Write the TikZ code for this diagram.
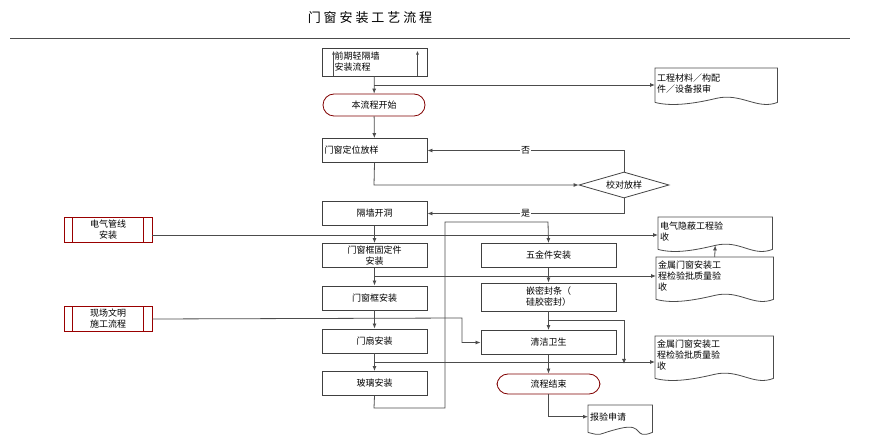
\documentclass[tikz,border=0pt]{standalone}
\usepackage{fontspec}
\setmainfont{Noto Sans CJK SC}
\usetikzlibrary{shapes.geometric,arrows.meta}
\begin{document}
\begin{tikzpicture}[x=1pt,y=-1pt,
  every node/.style={font=\fontsize{9}{11}\selectfont, align=center, inner sep=1pt},
  box/.style={draw=black!75, line width=0.9pt, minimum width=105pt, minimum height=24pt, text width=100pt},
  rbox/.style={draw=black!75, line width=0.9pt, minimum width=135pt, minimum height=24pt},
  term/.style={draw=red!50!black, line width=0.8pt, rounded corners=11pt, minimum width=102pt, minimum height=22pt},
  sub/.style={draw=black!75, line width=0.9pt, minimum width=105pt, minimum height=28pt},
  lsub/.style={draw=red!60!black, line width=0.8pt, minimum width=88pt, minimum height=25pt},
  doc/.style={minimum height=#1, align=left, anchor=north west, inner sep=2pt},
  ln/.style={draw=black!70, line width=0.8pt},
  ar/.style={ln, -{Latex[length=5pt,width=4pt]}}]
\useasboundingbox (0,0) rectangle (886,443);
\node[font=\fontsize{13}{15}\selectfont] (title) at (370,18) {门 窗 安 装 工 艺 流 程};
\coordinate (tl) at (10,38); \coordinate (tr) at (850,38);
\draw[ln] (tl) -- (tr);
% main column
\node[sub, text width=80pt, align=left] (pre) at (374.5,62) {前期轻隔墙\\安装流程};
\draw[ln,-{Latex[length=4pt,width=3pt]}] ([xshift=12pt]pre.south west) -- ([xshift=12pt,yshift=-3pt]pre.north west);
\draw[ln,-{Latex[length=4pt,width=3pt]}] ([xshift=-10pt]pre.south east) -- ([xshift=-10pt,yshift=-3pt]pre.north east);
\node[term] (start) at (374,105) {本流程开始};
\node[box, align=left] (dw) at (374.5,150.5) {门窗定位放样};
\node[draw=black!75, line width=0.8pt, diamond, aspect=3.5, minimum width=90pt, minimum height=26pt, inner sep=0pt] (chk) at (624,185) {校对放样};
\node[box] (kd) at (374.5,213.5) {隔墙开洞};
\node[box] (gd) at (374.5,255.5) {门窗框固定件\\安装};
\node[box] (kz) at (374.5,298) {门窗框安装};
\node[box] (ms) at (374.5,341) {门扇安装};
\node[box] (bl) at (374.5,383.5) {玻璃安装};
% right column
\node[rbox] (wj) at (548.5,255.5) {五金件安装};
\node[rbox, minimum height=28pt] (mf) at (548.5,297) {嵌密封条（\\硅胶密封）};
\node[rbox] (qj) at (548.5,342.5) {清洁卫生};
\node[term, minimum width=103pt, minimum height=20pt] (end) at (548.5,384) {流程结束};
% left subprocesses
\node[lsub] (dq) at (108,229.5) {电气管线\\安装};
\node[lsub] (xc) at (108,319) {现场文明\\施工流程};
\foreach \n in {dq,xc}{
  \draw[draw=red!60!black,line width=0.8pt] ([xshift=9pt]\n.south west) -- ([xshift=9pt]\n.north west);
  \draw[draw=red!60!black,line width=0.8pt] ([xshift=-9pt]\n.south east) -- ([xshift=-9pt]\n.north east);}
% documents
\node[doc=30pt, text width=118pt] (d1) at (655,68) {工程材料／构配\\件／设备报审};
\node[doc=28pt, text width=110pt] (d2) at (658,217) {电气隐蔽工程验\\收};
\node[doc=38pt, text width=113pt] (d3) at (656,257) {金属门窗安装工\\程检验批质量验\\收};
\node[doc=38pt, text width=114pt] (d4) at (655,336) {金属门窗安装工\\程检验批质量验\\收};
\node[doc=23pt, text width=60pt] (d5) at (588,405) {报验申请};
\foreach \n in {d1,d2,d3,d4,d5}{
  \draw[ln] ([yshift=-4pt]\n.south west) -- (\n.north west) -- (\n.north east) -- ([yshift=-4pt]\n.south east)
    .. controls ([xshift=-20pt,yshift=-12pt]\n.south east) and ([xshift=25pt,yshift=6pt]\n.south) .. ([yshift=0pt]\n.south)
    .. controls ([xshift=-25pt,yshift=-6pt]\n.south) and ([xshift=15pt,yshift=-8pt]\n.south west) .. ([yshift=-4pt]\n.south west);}
% connectors
\coordinate (p1) at (374,85);
\draw[ar] (pre) -- (start);
\draw[ar] (p1) -- (d1.west |- p1);
\draw[ar] (start) -- (dw);
\coordinate (c1) at (374,185);
\draw[ar] (dw.south) -- (c1) -- (chk.west);
\draw[ar] (chk.north) |- (dw.east) node[pos=0.75, fill=white] {否};
\draw[ar] (chk.south) |- (kd.east) node[pos=0.75, fill=white] {是};
\draw[ar] (kd) -- (gd);
\coordinate (e1) at (152,235);
\draw[ar] (dq.east |- e1) -- (d2.west |- e1);
\draw[ar] (gd) -- (kz);
\coordinate (e2) at (374,276);
\draw[ar] (e2) -- (d3.west |- e2);
\draw[ar] (kz) -- (ms);
\draw[ar] (ms) -- (bl);
\coordinate (e3) at (374,362);
\draw[ar] (e3) -- (d4.west |- e3);
\coordinate (l1) at (374,408); \coordinate (l2) at (445,408); \coordinate (l3) at (445,222); \coordinate (l4) at (548,222);
\draw[ar] (bl.south) -- (l1) -- (l2) -- (l3) -- (l4) -- (wj.north);
\draw[ar] (wj) -- (mf);
\draw[ar] (mf) -- (qj);
\coordinate (m1) at (548,320); \coordinate (m2) at (624,320); \coordinate (m3) at (624,364);
\draw[ar] (m1) -- (m2) -- (m3);
\coordinate (x1) at (462,318);
\draw[ar] (xc.east) -- (x1) |- (qj.west);
\draw[ar] (qj) -- (end);
\draw[ar] (end.south) |- (d5.west);
\draw[ar] (d3.north) -- (d2.south);
\end{tikzpicture}
\end{document}
